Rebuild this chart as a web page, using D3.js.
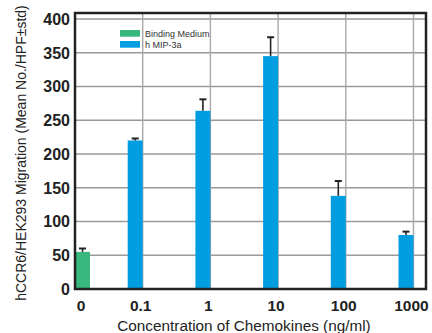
<!DOCTYPE html>
<html><head><meta charset="utf-8">
<script src="https://cdn.jsdelivr.net/npm/d3@7"></script>
<style>body{margin:0;background:#fff}svg{display:block}text{font-family:"Liberation Sans",Arial,sans-serif}</style>
</head><body><svg id="c" width="432" height="333"></svg>
<script>
const categories = ["0", "0.1", "1", "10", "100", "1000"];
const logPos = [-2, -1, 0, 1, 2, 3];
const series = ["Binding Medium", "h MIP-3a"];
const values = [55, 220, 264, 345, 138, 80];
const errors = [5, 3, 17, 28, 22, 5];
const seriesOf = [0, 1, 1, 1, 1, 1];
const yTicks = [0, 50, 100, 150, 200, 250, 300, 350, 400];
const colors = ["#38b77e", "#009ee0"];

const svg = d3.select("#c");
const L = 75, R = 426, T = 13, B = 289;
const x = d3.scaleLinear().domain([-2, 3]).range([L, 413.5]);
const y = d3.scaleLinear().domain([0, 400]).range([B, 19]);
const bw = 15;

// gridlines
svg.append("g").selectAll("line").data(yTicks.slice(1)).join("line")
  .attr("x1", L).attr("x2", R).attr("y1", d => y(d)).attr("y2", d => y(d))
  .attr("stroke", "#9a9a9a").attr("stroke-width", 1.4);
svg.append("g").selectAll("line").data(logPos.slice(1)).join("line")
  .attr("x1", d => x(d)).attr("x2", d => x(d)).attr("y1", T).attr("y2", B)
  .attr("stroke", "#a8a8a8").attr("stroke-width", 1.4);

// bars
const bx = i => i === 0 ? x(logPos[i]) : x(logPos[i]) - bw;
svg.append("g").selectAll("rect").data(values).join("rect")
  .attr("x", (d, i) => bx(i)).attr("width", bw)
  .attr("y", d => y(d)).attr("height", d => B - y(d))
  .attr("fill", (d, i) => colors[seriesOf[i]]);

// error bars
const eg = svg.append("g").attr("stroke", "#222").attr("stroke-width", 1.6);
values.forEach((v, i) => {
  const cx = bx(i) + bw / 2;
  eg.append("line").attr("x1", cx).attr("x2", cx).attr("y1", y(v)).attr("y2", y(v + errors[i]));
  eg.append("line").attr("x1", cx - 3.5).attr("x2", cx + 3.5).attr("y1", y(v + errors[i])).attr("y2", y(v + errors[i])).attr("stroke-width", 2);
});

// frame
svg.append("path").attr("d", `M${L},${T}H${R}V${B}H${L}Z`).attr("fill", "none")
  .attr("stroke", "#222").attr("stroke-width", 2.5);

// y tick labels
svg.append("g").selectAll("text").data(yTicks).join("text")
  .attr("x", 70).attr("y", d => y(d)).attr("dy", "0.36em")
  .attr("text-anchor", "end").attr("font-size", 16).attr("font-weight", "bold").attr("fill", "#222")
  .text(d => d);

// x tick labels
svg.append("g").selectAll("text").data(categories).join("text")
  .attr("x", (d, i) => i === 0 ? bx(0) + 6 : x(logPos[i]) - 2)
  .attr("y", 311)
  .attr("text-anchor", "middle").attr("font-size", 15.5).attr("font-weight", "bold").attr("fill", "#222")
  .text(d => d);

// axis titles
svg.append("text").attr("x", 244).attr("y", 331).attr("text-anchor", "middle")
  .attr("font-size", 15.3).attr("fill", "#222").text("Concentration of Chemokines (ng/ml)");
svg.append("text").attr("transform", "translate(26,153) rotate(-90)").attr("text-anchor", "middle")
  .attr("font-size", 14).attr("fill", "#222").text("hCCR6/HEK293 Migration (Mean No./HPF±std)");

// legend
const lg = svg.append("g");
series.forEach((s, i) => {
  lg.append("rect").attr("x", 120).attr("y", 30 + i * 11).attr("width", 20).attr("height", 6.7).attr("fill", colors[i]);
  lg.append("text").attr("x", 145).attr("y", 33.5 + i * 11).attr("dy", "0.35em")
    .attr("font-size", 9).attr("fill", "#333").text(s);
});
</script></body></html>
